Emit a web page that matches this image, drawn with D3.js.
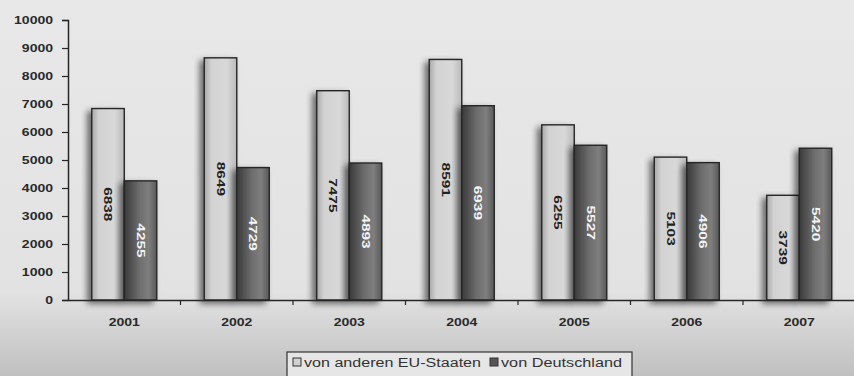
<!DOCTYPE html>
<html><head><meta charset="utf-8">
<script src="https://cdn.jsdelivr.net/npm/d3@7"></script>
<style>html,body{margin:0;padding:0;overflow:hidden;background:#e6e6e6}</style>
</head><body>
<svg id="c" width="854" height="376"></svg>
<script>
const years = ["2001","2002","2003","2004","2005","2006","2007"];
const seriesNames = ["von anderen EU-Staaten","von Deutschland"];
const euValues = [6838, 8649, 7475, 8591, 6255, 5103, 3739];
const deValues = [4255, 4729, 4893, 6939, 5527, 4906, 5420];
const yTicks = [0,1000,2000,3000,4000,5000,6000,7000,8000,9000,10000];

(function(){
const svg = d3.select("#c");
const W = 854, H = 376;
const FONT = "Liberation Sans, Arial, sans-serif";
const STRETCH = 1.4;
function stretch(sel, f){
  sel.each(function(){
    const l = this.getComputedTextLength();
    d3.select(this).attr("textLength", l*(f||STRETCH)).attr("lengthAdjust","spacingAndGlyphs");
  });
}
const defs = svg.append("defs");

const bg = defs.append("linearGradient").attr("id","bg").attr("x1",0).attr("y1",0).attr("x2",0).attr("y2",1);
bg.append("stop").attr("offset","0%").attr("stop-color","#e8e8e8");
bg.append("stop").attr("offset","78%").attr("stop-color","#e2e2e2");
bg.append("stop").attr("offset","100%").attr("stop-color","#c0c0c0");

const gl = defs.append("linearGradient").attr("id","gLight").attr("x1",0).attr("y1",0).attr("x2",1).attr("y2",0);
gl.append("stop").attr("offset","0%").attr("stop-color","#a8a8a8");
gl.append("stop").attr("offset","22%").attr("stop-color","#d2d2d2");
gl.append("stop").attr("offset","70%").attr("stop-color","#d8d8d8");
gl.append("stop").attr("offset","100%").attr("stop-color","#bababa");

const gd = defs.append("linearGradient").attr("id","gDark").attr("x1",0).attr("y1",0).attr("x2",1).attr("y2",0);
gd.append("stop").attr("offset","0%").attr("stop-color","#3a3a3a");
gd.append("stop").attr("offset","45%").attr("stop-color","#6c6c6c");
gd.append("stop").attr("offset","75%").attr("stop-color","#7e7e7e");
gd.append("stop").attr("offset","100%").attr("stop-color","#585858");

const sh = defs.append("filter").attr("id","shadow").attr("x","-30%").attr("y","-10%").attr("width","160%").attr("height","130%");
sh.append("feGaussianBlur").attr("in","SourceAlpha").attr("stdDeviation",3).attr("result","b");
sh.append("feOffset").attr("in","b").attr("dx",-4).attr("dy",3).attr("result","o");
sh.append("feComponentTransfer").attr("in","o").attr("result","o2")
  .append("feFuncA").attr("type","linear").attr("slope",0.55);
const m = sh.append("feMerge");
m.append("feMergeNode").attr("in","o2");
m.append("feMergeNode").attr("in","SourceGraphic");

svg.append("rect").attr("width",W).attr("height",H).attr("fill","url(#bg)");

const pLeft = 68, pRight = 855.5, pTop = 20, pBottom = 300;
const x0 = d3.scaleBand().domain(years).range([pLeft, pRight]).padding(0);
const x1 = d3.scaleBand().domain(seriesNames).range([0, x0.bandwidth()]).paddingInner(0).paddingOuter(0.73);
const y = d3.scaleLinear().domain([0,10000]).range([pBottom, pTop]);

const data = years.map((yr,i)=>({year:yr, vals:[{s:seriesNames[0], v:euValues[i], k:0},{s:seriesNames[1], v:deValues[i], k:1}]}));

const groups = svg.append("g").selectAll("g").data(data).join("g")
  .attr("transform", d=>`translate(${x0(d.year)},0)`);

groups.selectAll("rect").data(d=>d.vals).join("rect")
  .attr("x", d=>x1(d.s)).attr("width", x1.bandwidth())
  .attr("y", d=>y(d.v)).attr("height", d=>y(0)-y(d.v))
  .attr("fill", d=>d.k===0?"url(#gLight)":"url(#gDark)")
  .attr("stroke","#262626").attr("stroke-width",1.4)
  .attr("filter","url(#shadow)");

const bl = groups.selectAll("text").data(d=>d.vals).join("text")
  .attr("transform", d=>`translate(${x1(d.s)+x1.bandwidth()/2},${(y(d.v)+y(0))/2}) rotate(90)`)
  .attr("text-anchor","middle").attr("dy","0.35em")
  .attr("font-family",FONT).attr("font-size",11).attr("font-weight","bold")
  .attr("fill", d=>d.k===0?"#222":"#f4f4f4")
  .text(d=>d.v);
stretch(bl);

const yAxis = d3.axisLeft(y).tickValues(yTicks).tickSize(6).tickPadding(9).tickFormat(d3.format("d"));
const ya = svg.append("g").attr("transform",`translate(${pLeft},0)`).call(yAxis);
ya.select(".domain").attr("stroke","#262626").attr("stroke-width",1.5);
ya.selectAll(".tick line").attr("stroke","#262626").attr("stroke-width",1.2);
ya.selectAll("text").attr("font-family",FONT).attr("font-size",10).attr("font-weight","bold").attr("fill","#2a2a2a");
stretch(ya.selectAll("text"));

const xAxis = d3.axisBottom(x0).tickSize(0).tickPadding(19);
const xa = svg.append("g").attr("transform",`translate(0,${pBottom})`).call(xAxis);
xa.select(".domain").attr("stroke","#262626").attr("stroke-width",1.5);
xa.selectAll("text").attr("font-family",FONT).attr("font-size",10).attr("font-weight","bold").attr("fill","#2a2a2a");
stretch(xa.selectAll("text"));
xa.append("g").selectAll("line").data(years.slice(1)).join("line")
  .attr("x1", d=>x0(d)).attr("x2", d=>x0(d)).attr("y1",0).attr("y2",5)
  .attr("stroke","#262626").attr("stroke-width",1.2);

const lg = svg.append("g");
lg.append("rect").attr("x",287).attr("y",352).attr("width",345).attr("height",30)
  .attr("fill","#e6e6e6").attr("stroke","#333").attr("stroke-width",1.2);
const items = [{s:seriesNames[0], fill:"#d0d0d0", x:293, w:177},{s:seriesNames[1], fill:"#555", x:490, w:121}];
items.forEach(it=>{
  lg.append("rect").attr("x",it.x).attr("y",358).attr("width",8).attr("height",8)
    .attr("fill",it.fill).attr("stroke","#333").attr("stroke-width",1);
  lg.append("text").attr("x",it.x+11).attr("y",367)
    .attr("font-family",FONT).attr("font-size",12).attr("fill","#333")
    .attr("textLength", it.w).attr("lengthAdjust","spacingAndGlyphs")
    .text(it.s);
});
})();
</script>
</body></html>
